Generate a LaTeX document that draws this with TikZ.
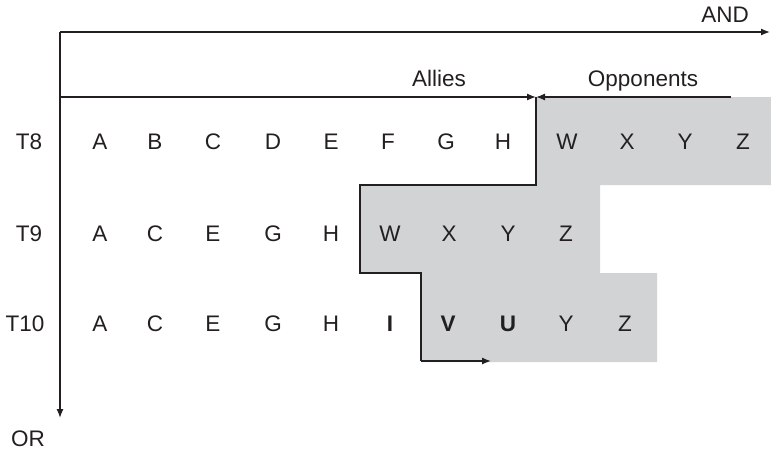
\documentclass[tikz,border=0pt]{standalone}
\usepackage{fontspec}
\setmainfont{Liberation Sans}
\usetikzlibrary{arrows.meta}
\definecolor{oppgray}{RGB}{209,211,213}
\definecolor{ink}{RGB}{35,31,32}
\begin{document}
\begin{tikzpicture}[x=1pt,y=-1pt,
  lbl/.style={inner sep=0pt,text height=16pt,text depth=0pt,anchor=center,text=ink,font=\fontsize{22.5}{27}\selectfont},
  bl/.style={lbl,font=\fontsize{22.5}{27}\selectfont\bfseries},
  ln/.style={draw=ink,line width=1.3pt},
  arr/.style={ln,-{Latex[length=9pt,width=7pt]}}]
\useasboundingbox (0,0) rectangle (771,452);
% shaded opponents region
\fill[fill=oppgray] (536,97) -- (771,97) -- (771,185) -- (600,185) -- (600,273) -- (657,273)
  -- (657,362) -- (421,362) -- (421,273) -- (360,273) -- (360,185) -- (536,185) -- cycle;
% coordinates
\coordinate (o) at (60,32);
\coordinate (andend) at (770,32);
\coordinate (orend) at (60,418);
\coordinate (al) at (60,97);
\coordinate (mid) at (536,97);
\coordinate (opstart) at (731,97);
\coordinate (s1) at (536,185);
\coordinate (s2) at (360,185);
\coordinate (s3) at (360,273);
\coordinate (s4) at (421,273);
\coordinate (s5) at (421,361);
\coordinate (s6) at (491,361);
% axes
\draw[arr] (o) -- (andend);
\draw[arr] (o) -- (orend);
\draw[arr] (al) -- (mid);
\draw[arr] (opstart) -- (mid);
\draw[ln] (mid) -- (s1) -- (s2) -- (s3) -- (s4) -- (s5);
\draw[arr] (s5) -- (s6);
% labels
\node[lbl] (and) at (725,15) {AND};
\node[lbl] (or) at (28,438) {OR};
\node[lbl] (allies) at (439,78) {Allies};
\node[lbl] (opp) at (643,78) {Opponents};
\node[lbl] (t8) at (29,141) {T8};
\node[lbl] (t9) at (29,233) {T9};
\node[lbl] (t10) at (25,323) {T10};
% row T8
\foreach \t/\x [count=\i] in {A/100,B/155,C/213,D/273,E/331,F/388,G/446,H/503,W/567,X/627,Y/685,Z/743}
  \node[lbl] (r8-\i) at (\x,141) {\t};
% row T9
\foreach \t/\x [count=\i] in {A/100,C/155,E/213,G/273,H/331,W/390,X/449,Y/508,Z/566}
  \node[lbl] (r9-\i) at (\x,233) {\t};
% row T10
\foreach \t/\x [count=\i] in {A/100,C/155,E/213,G/273,H/331}
  \node[lbl] (r10-\i) at (\x,323) {\t};
\node[bl] (r10-6) at (390,323) {I};
\node[bl] (r10-7) at (448,323) {V};
\node[bl] (r10-8) at (508,323) {U};
\node[lbl] (r10-9) at (566,323) {Y};
\node[lbl] (r10-10) at (625,323) {Z};
\end{tikzpicture}
\end{document}
